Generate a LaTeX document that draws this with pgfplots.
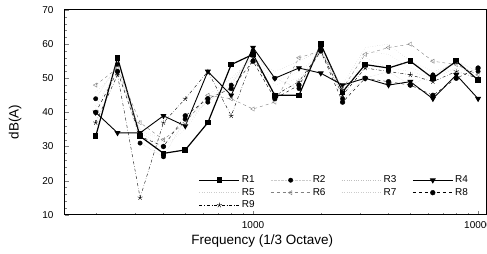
\documentclass[border=0pt]{standalone}
\usepackage{fontspec}
\setmainfont{Liberation Sans}
\usepackage{pgfplots}
\pgfplotsset{compat=1.18}
\begin{document}
\begin{tikzpicture}
\begin{axis}[
  scale only axis, width=422pt, height=205pt,
  xmode=log, xmin=146, xmax=10900,
  ymin=10, ymax=70, ytick={10,20,...,70}, minor y tick num=4,
  xtick={1000,10000}, xticklabels={1000,10000},
  minor xtick={200,300,400,500,600,700,800,900,2000,3000,4000,5000,6000,7000,8000,9000},
  xtick pos=bottom, ytick pos=left,
  axis line style={line width=1pt},
  major tick length=4pt, minor tick length=2pt,
  /pgf/number format/assume math mode=true,
  tick label style={font=\fontsize{10}{12}\selectfont},
  yticklabel style={xshift=-8pt},
  xticklabel style={yshift=-3pt},
  xlabel={Frequency (1/3 Octave)}, ylabel={dB(A)},
  label style={font=\fontsize{13.5}{16}\selectfont},
  xlabel style={at={(axis description cs:0.468,-0.08)},anchor=north},
  ylabel style={at={(axis description cs:-0.118,0.454)},anchor=center},
  legend columns=4,
  legend style={at={(rel axis cs:0.31,0.21)}, anchor=north west, draw=none, fill=none,
    font=\fontsize{10}{12}\selectfont,
    /tikz/every even column/.append style={column sep=14pt}},
  legend image code/.code={\draw[mark repeat=2,mark phase=2,#1] plot coordinates {(0cm,0cm) (0.7cm,0cm) (1.4cm,0cm)};},
]
\coordinate (ll) at (rel axis cs:0,0);
\coordinate (ur) at (rel axis cs:1,1);
% R1
\addplot[black, line width=1.2pt, mark=square*, mark size=2.2pt] coordinates {
(200,33) (250,56) (315,33) (400,28) (500,29) (630,37) (800,54) (1000,57) (1250,45) (1600,45) (2000,60) (2500,46) (3150,54) (4000,53) (5000,55) (6300,50) (8000,55) (10000,49.5)};
\addlegendentry{R1}
% R2
\addplot[gray!40, densely dotted, mark=*, mark size=2.2pt, mark options={solid,fill=black,draw=black}] coordinates {
(200,44) (250,54) (315,31) (400,27) (500,38) (630,43) (800,48) (1000,58) (1250,50) (1600,47) (2000,59) (2500,44) (3150,50) (4000,52) (5000,48) (6300,51) (8000,55) (10000,52)};
\addlegendentry{R2}
% R3
\addplot[gray!50, dotted] coordinates {
(200,46) (250,52) (315,35) (400,32) (500,37) (630,45) (800,50) (1000,56) (1250,52) (1600,55) (2000,58) (2500,48) (3150,59) (4000,60) (5000,55) (6300,52) (8000,54) (10000,50)};
\addlegendentry{R3}
% R4
\addplot[black, line width=0.9pt, mark=triangle*, mark size=2.6pt, mark options={rotate=180}] coordinates {
(200,40) (250,34) (315,34) (400,39) (500,36) (630,52) (800,45) (1000,59) (1250,50) (1600,53) (2000,51.5) (2500,48) (3150,50) (4000,48) (5000,49) (6300,44) (8000,51) (10000,44)};
\addlegendentry{R4}
% R5
\addplot[gray!40, dotted] coordinates {
(200,41) (250,53) (315,34) (400,30) (500,35) (630,44) (800,49) (1000,56) (1250,48) (1600,50) (2000,59) (2500,45) (3150,56) (4000,53) (5000,52) (6300,50) (8000,53) (10000,51)};
\addlegendentry{R5}
% R6
\addplot[gray, dashed, mark=triangle, mark size=2.4pt, mark options={rotate=90,solid}] coordinates {
(200,48) (250,53) (315,37) (400,32) (500,37) (630,45) (800,44) (1000,41) (1250,43) (1600,56) (2000,58) (2500,47) (3150,57) (4000,59) (5000,60) (6300,55) (8000,54) (10000,51)};
\addlegendentry{R6}
% R7
\addplot[gray!40, dotted] coordinates {
(200,42) (250,52) (315,35) (400,31) (500,36) (630,44) (800,48) (1000,57) (1250,49) (1600,52) (2000,57) (2500,46) (3150,58) (4000,57) (5000,53) (6300,51) (8000,53) (10000,52)};
\addlegendentry{R7}
% R8
\addplot[black, dashed, mark=*, mark size=2.4pt, mark options={solid}] coordinates {
(200,40) (250,52) (315,33) (400,30) (500,39) (630,44) (800,47) (1000,55) (1250,44) (1600,48) (2000,58) (2500,43) (3150,50) (4000,49) (5000,48) (6300,45) (8000,50) (10000,53)};
\addlegendentry{R8}
% R9
\addplot[black, thin, dash dot, mark=star, mark size=2.6pt, mark options={solid}] coordinates {
(200,37) (250,51) (315,15) (400,37) (500,44) (630,52) (800,39) (1000,56) (1250,45) (1600,49) (2000,58) (2500,45) (3150,53) (4000,52) (5000,51) (6300,49) (8000,52) (10000,50)};
\addlegendentry{R9}
\end{axis}
\pgfresetboundingbox
\path[use as bounding box] ([xshift=-65pt,yshift=-39pt]ll) rectangle ([xshift=0.5pt,yshift=10pt]ur);
\end{tikzpicture}
\end{document}
